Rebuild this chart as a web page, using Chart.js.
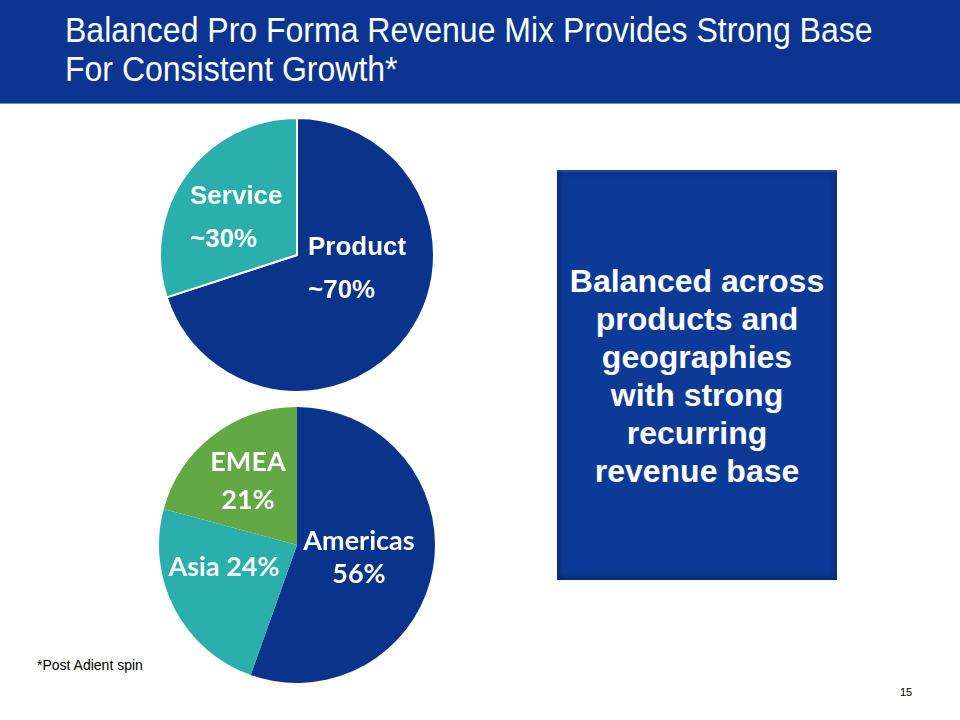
<!DOCTYPE html>
<html>
<head>
<meta charset="utf-8">
<script src="https://cdn.jsdelivr.net/npm/chart.js@4"></script>
<style>
  body { margin: 0; width: 960px; height: 720px; background: #fff; position: relative; overflow: hidden; font-family: "Liberation Sans", Arial, sans-serif; }
  #titlebar { position: absolute; left: 0; top: 0; width: 960px; height: 103px; background: #0b3590; border-bottom: 1px solid #6f8cc8; }
  #titlebar div { position: absolute; left: 65px; top: 11px; color: #fff; font-size: 32px; line-height: 36px; transform: scaleY(1.08); transform-origin: left top; }
  .pie { position: absolute; width: 280px; height: 280px; }
  #topPie { left: 157px; top: 115px; }
  #bottomPie { left: 157px; top: 405px; }
  #box { position: absolute; left: 557px; top: 170px; width: 280px; height: 410px; background: #0d3a97;
         box-shadow: inset 0 0 6px 2px rgba(0,20,80,0.6), inset 0 2px 2px rgba(120,150,220,0.6); }
  #box div { position: absolute; left: 0; width: 280px; top: 92px; text-align: center; color: #fff; font-weight: bold; font-size: 32px; line-height: 38px; }
  #foot { position: absolute; left: 37px; top: 657px; font-size: 14px; }
  #pageno { position: absolute; left: 900px; top: 686px; font-size: 11px; }
</style>
</head>
<body>
<div id="titlebar"><div>Balanced Pro Forma Revenue Mix Provides Strong Base<br>For Consistent Growth*</div></div>
<div class="pie" id="topPie"><canvas id="pie1"></canvas></div>
<div class="pie" id="bottomPie"><canvas id="pie2"></canvas></div>
<div id="box"><div>Balanced across<br>products and<br>geographies<br>with strong<br>recurring<br>revenue base</div></div>
<div id="foot">*Post Adient spin</div>
<div id="pageno">15</div>
<script>
// top pie: product vs service
const mixLabels = ['Product', 'Service'];
const mixValues = [70, 30];
const mixText = [['Product', '~70%'], ['Service', '~30%']];
const mixColors = ['#0a338c', '#2aafac'];

// bottom pie: geography
const geoLabels = ['Americas', 'Asia', 'EMEA'];
const geoValues = [56, 24, 21];
const geoText = [['Americas', '56%'], ['Asia 24%'], ['EMEA', '21%']];
const geoColors = ['#0a338c', '#2aafac', '#62a946'];

// label spots, offset from pie centre
const mixSpots = [{x: 11, y: -7, align: 'left', lh: 43}, {x: -107, y: -58, align: 'left', lh: 43}];
const geoSpots = [{x: 62, y: -4, align: 'center', lh: 33}, {x: -73, y: 22, align: 'center', lh: 0}, {x: -49, y: -83, align: 'center', lh: 38}];

function labelPlugin(texts, spots, font) {
    return {
        id: 'sliceLabels',
        afterDatasetsDraw(chart) {
            const ctx = chart.ctx;
            const arcs = chart.getDatasetMeta(0).data;
            ctx.save();
            ctx.fillStyle = '#fff';
            ctx.font = font;
            ctx.textBaseline = 'middle';
            arcs.forEach(function(arc, i) {
                const s = spots[i];
                ctx.textAlign = s.align;
                texts[i].forEach(function(line, j) {
                    ctx.fillText(line, arc.x + s.x, arc.y + s.y + j * s.lh);
                });
            });
            ctx.restore();
        }
    };
}

function makePie(id, labels, values, colors, borderW, plugin) {
    new Chart(document.getElementById(id), {
        type: 'pie',
        data: {
            labels: labels,
            datasets: [{
                data: values,
                backgroundColor: colors,
                borderColor: '#fff',
                borderWidth: borderW
            }]
        },
        options: {
            responsive: true,
            maintainAspectRatio: false,
            animation: false,
            layout: { padding: 2 },
            plugins: { legend: { display: false }, tooltip: { enabled: false } }
        },
        plugins: [plugin]
    });
}

makePie('pie1', mixLabels, mixValues, mixColors, 2,
    labelPlugin(mixText, mixSpots, 'bold 26px "Liberation Sans", Arial, sans-serif'));
makePie('pie2', geoLabels, geoValues, geoColors, 0,
    labelPlugin(geoText, geoSpots, 'bold 27px Lato, "Open Sans", sans-serif'));
</script>
</body>
</html>
